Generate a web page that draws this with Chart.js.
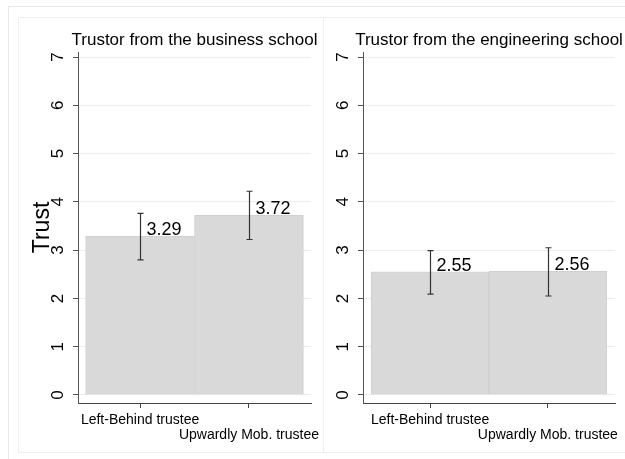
<!DOCTYPE html>
<html>
<head>
<meta charset="utf-8">
<script src="https://cdn.jsdelivr.net/npm/chart.js@4"></script>
<style>
  html, body { margin: 0; padding: 0; background: #fff; }
  body { width: 625px; height: 459px; position: relative; overflow: hidden; }
  .frame { position: absolute; left: 8px; top: 6px; width: 700px; height: 500px;
           border-left: 1px solid #e9e9e9; border-top: 1px solid #e9e9e9; }
  .box { position: absolute; top: 17px; height: 436px; border: 1px solid #efefef; box-sizing: border-box; }
  canvas { position: absolute; top: 17px; }
</style>
</head>
<body>
<div class="frame"></div>
<div class="box" style="left:18px; width:306px;"></div>
<div class="box" style="left:323px; width:320px;"></div>
<canvas id="businessChart" width="305" height="436" style="left:18px"></canvas>
<canvas id="engineeringChart" width="302" height="436" style="left:323px"></canvas>
<script>
const categories = ['Left-Behind trustee', 'Upwardly Mob. trustee'];
const yTicks = [0, 1, 2, 3, 4, 5, 6, 7];

// mean trust and 95% CI, trustor from the business school
const businessMeans = [3.29, 3.72];
const businessLow = [2.80, 3.22];
const businessHigh = [3.76, 4.22];

// mean trust and 95% CI, trustor from the engineering school
const engineeringMeans = [2.55, 2.56];
const engineeringLow = [2.09, 2.05];
const engineeringHigh = [2.99, 3.05];

const FONT = "'Liberation Sans', Arial, sans-serif";

// whiskers, value labels and the panel title, drawn on top of the bars
const extrasPlugin = {
    id: 'extras',
    afterDatasetsDraw(chart, args, opts) {
        const { ctx, chartArea, scales: { x, y } } = chart;
        ctx.save();
        ctx.strokeStyle = '#333';
        ctx.lineWidth = 1.2;
        opts.means.forEach((m, i) => {
            const px = Math.round(x.getPixelForValue(i + 1)) + 0.5;
            const top = y.getPixelForValue(opts.high[i]);
            const bot = y.getPixelForValue(opts.low[i]);
            ctx.beginPath();
            ctx.moveTo(px, top); ctx.lineTo(px, bot);
            ctx.moveTo(px - 3, top); ctx.lineTo(px + 3, top);
            ctx.moveTo(px - 3, bot); ctx.lineTo(px + 3, bot);
            ctx.stroke();

            ctx.fillStyle = '#000';
            ctx.font = '18px ' + FONT;
            ctx.textAlign = 'left';
            ctx.textBaseline = 'alphabetic';
            ctx.fillText(m.toFixed(2), px + 6, y.getPixelForValue(m) - 1);
        });
        ctx.fillStyle = '#000';
        ctx.font = '17px ' + FONT;
        ctx.textAlign = 'center';
        ctx.textBaseline = 'alphabetic';
        ctx.fillText(opts.title, (chartArea.left + chartArea.right) / 2, 28);
        ctx.restore();
    }
};

function makePanel(id, title, means, low, high, axisWidth, rightPad, showYTitle) {
    const ctx = document.getElementById(id).getContext('2d');
    return new Chart(ctx, {
        type: 'bar',
        data: {
            datasets: [{
                data: means.map((v, i) => ({ x: i + 1, y: v })),
                backgroundColor: '#d9d9d9',
                borderColor: '#cfcfcf',
                borderWidth: 1,
                barThickness: 'flex',
                categoryPercentage: 1,
                barPercentage: 1
            }]
        },
        plugins: [extrasPlugin],
        options: {
            responsive: false,
            animation: false,
            devicePixelRatio: 1,
            layout: { padding: { top: 35, right: rightPad, left: 0, bottom: 0 } },
            scales: {
                x: {
                    type: 'linear',
                    offset: false,
                    min: 0.43,
                    max: 2.57,
                    afterBuildTicks: s => { s.ticks = categories.map((c, i) => ({ value: i + 1 })); },
                    // labels may overhang the plot edge, so no extra side padding
                    afterFit: s => { s.height = 50; s.paddingLeft = 0; s.paddingRight = 0; },
                    grid: { offset: false, drawOnChartArea: false, drawTicks: true, tickLength: 5, tickColor: '#444' },
                    border: { color: '#444', width: 1 },
                    ticks: {
                        maxRotation: 0,
                        autoSkip: false,
                        padding: 5,
                        color: '#000',
                        font: { family: FONT, size: 14, lineHeight: 1.05 },
                        // stagger the two labels on separate lines
                        callback: v => v === 1 ? [categories[0], ''] : ['', categories[1]]
                    }
                },
                y: {
                    min: -0.166,
                    max: 7.104,
                    afterBuildTicks: s => { s.ticks = yTicks.map(v => ({ value: v })); },
                    afterFit: s => { s.width = axisWidth; s.paddingTop = 0; s.paddingBottom = 0; },
                    grid: { color: '#ececec', tickColor: '#555', tickLength: 5 },
                    border: { color: '#555', width: 1 },
                    ticks: {
                        minRotation: 90,
                        maxRotation: 90,
                        crossAlign: 'center',
                        padding: 10,
                        color: '#000',
                        font: { family: FONT, size: 17 },
                        callback: v => String(v)
                    },
                    title: {
                        display: showYTitle,
                        text: 'Trust',
                        color: '#000',
                        font: { family: FONT, size: 23, lineHeight: 1.2 },
                        padding: { top: 11, bottom: 0 }
                    }
                }
            },
            plugins: {
                legend: { display: false },
                tooltip: { enabled: false },
                extras: { title: title, means: means, low: low, high: high }
            }
        }
    });
}

makePanel('businessChart', 'Trustor from the business school',
    businessMeans, businessLow, businessHigh, 60, 12, true);
makePanel('engineeringChart', 'Trustor from the engineering school',
    engineeringMeans, engineeringLow, engineeringHigh, 40, 10, false);
</script>
</body>
</html>
